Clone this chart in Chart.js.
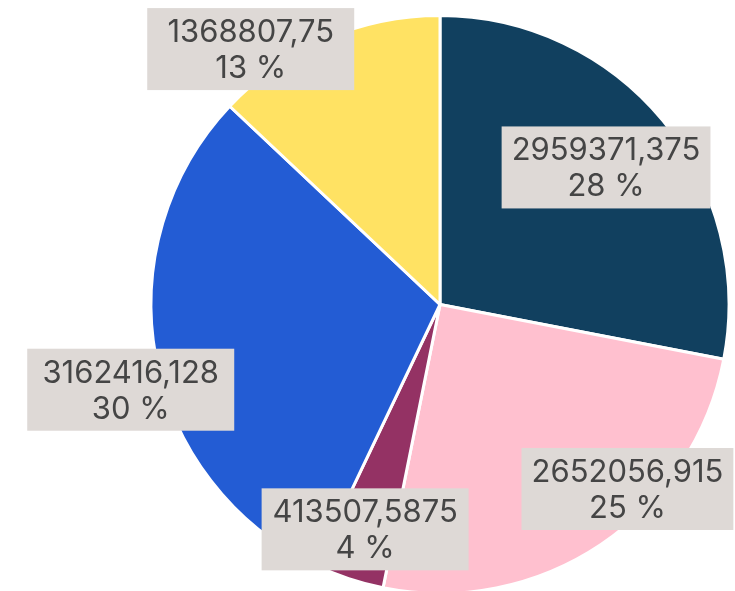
<!DOCTYPE html>
<html>
<head>
<meta charset="utf-8">
<script src="https://cdn.jsdelivr.net/npm/chart.js@4.4.0/dist/chart.umd.min.js"></script>
<style>
    html, body { margin: 0; padding: 0; background: #fff; overflow: hidden; }
    #wrap { width: 735px; height: 595px; position: relative; }
</style>
</head>
<body>
<div id="wrap"><canvas id="pieChart"></canvas></div>
<script>
// Data
const categories = ['A', 'B', 'C', 'D', 'E'];
const values = [2959371.375, 2652056.915, 413507.5875, 3162416.128, 1368807.75];
const sliceColors = ['#11405F', '#FFC0CF', '#943264', '#235CD4', '#FFE263'];

// Label placement: [angle offset in degrees, fraction of radius]
const labelPlacement = [[0, 0.745], [-11.6, 0.91], [0, 0.82], [-4.8, 1.11], [-13.2, 1.10]];

const total = values.reduce((a, b) => a + b, 0);

function formatValue(v) {
    return String(v).replace('.', ',');
}

// Boxed labels drawn on top of the slices
const boxLabels = {
    id: 'boxLabels',
    afterDatasetsDraw(chart) {
        const ctx = chart.ctx;
        const meta = chart.getDatasetMeta(0);
        ctx.save();
        ctx.font = '31px Inter, "Noto Sans", sans-serif';
        ctx.textAlign = 'center';
        ctx.textBaseline = 'alphabetic';
        meta.data.forEach((arc, i) => {
            const p = arc.getProps(['x', 'y', 'startAngle', 'endAngle', 'outerRadius'], true);
            const mid = (p.startAngle + p.endAngle) / 2 + labelPlacement[i][0] * Math.PI / 180;
            const r = p.outerRadius * labelPlacement[i][1];
            const cx = p.x + Math.cos(mid) * r;
            const cy = p.y + Math.sin(mid) * r;

            const line1 = formatValue(values[i]);
            const line2 = Math.round(values[i] / total * 100) + ' %';
            const w = Math.max(ctx.measureText(line1).width + 20, 207);
            const h = 82;

            ctx.fillStyle = '#DED9D6';
            ctx.fillRect(cx - w / 2, cy - h / 2, w, h);

            ctx.fillStyle = '#454545';
            ctx.fillText(line1, cx, cy - 7);
            ctx.fillText(line2, cx, cy + 29);
        });
        ctx.restore();
    }
};

new Chart(document.getElementById('pieChart'), {
    type: 'pie',
    data: {
        labels: categories,
        datasets: [{
            data: values,
            backgroundColor: sliceColors,
            borderColor: '#ffffff',
            borderWidth: 3
        }]
    },
    options: {
        responsive: true,
        maintainAspectRatio: false,
        animation: false,
        layout: {
            padding: { top: 14, left: 145, right: 0, bottom: 0 }
        },
        plugins: {
            legend: { display: false },
            tooltip: { enabled: false }
        }
    },
    plugins: [boxLabels]
});
</script>
</body>
</html>
